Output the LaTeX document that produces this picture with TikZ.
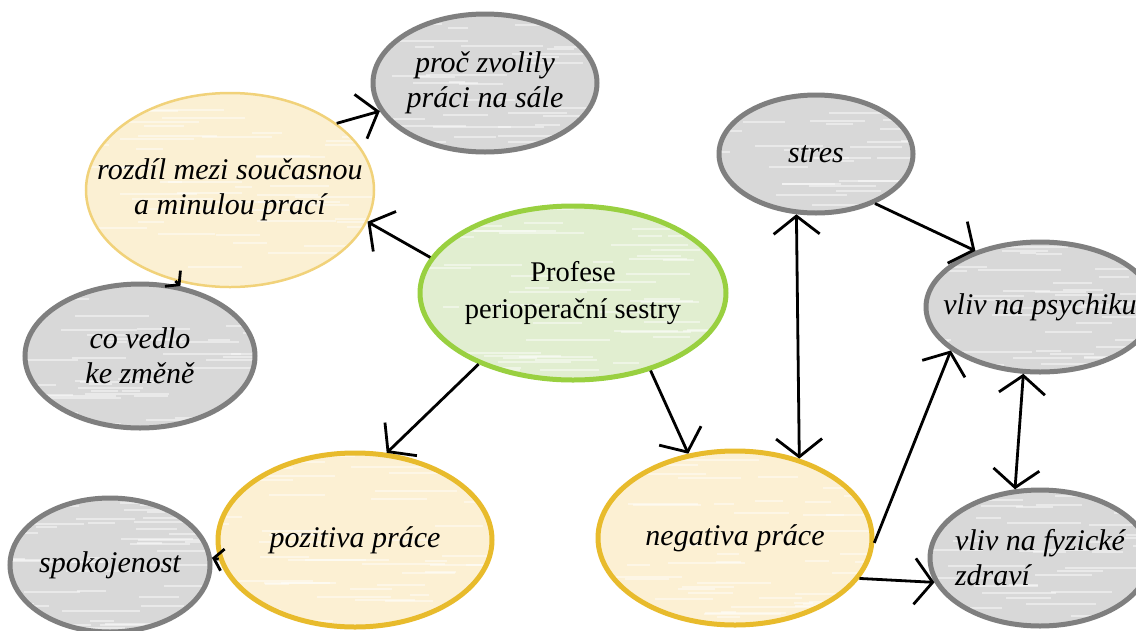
\documentclass[tikz,border=0pt]{standalone}
\usepackage{fontspec}
\setmainfont{Liberation Serif}
\usetikzlibrary{arrows.meta,shapes.geometric,calc}
\definecolor{grayfill}{HTML}{D8D8D8}
\definecolor{graydraw}{HTML}{7F7F7F}
\definecolor{greenfill}{HTML}{E1EED0}
\definecolor{greendraw}{HTML}{99D040}
\definecolor{yelfill}{HTML}{FCF0D3}
\definecolor{yeldraw}{HTML}{E8BB2C}
\definecolor{rozfill}{HTML}{FBF0D3}
\definecolor{rozdraw}{HTML}{F1D27A}
\pgfmathsetseed{4711}
\begin{document}
\begin{tikzpicture}[x=1pt,y=-1pt,
  streaks/.style={path picture={%
    \foreach \k in {1,...,55}{%
      \pgfmathsetmacro\fy{rnd}\pgfmathsetmacro\fx{rnd*300-20}\pgfmathsetmacro\fl{15+rnd*70}%
      \draw[white,opacity=.45,line width=2pt]
        ($(path picture bounding box.north west)!\fy!(path picture bounding box.south west)$)
        ++(\fx,0) -- ++(\fl,0);}}},
  bub/.style={ellipse, inner xsep=-40pt, inner ysep=0pt, align=center, streaks, font=\fontsize{30}{35}\selectfont\itshape},
  graybub/.style={bub, fill=grayfill, draw=graydraw, line width=5pt},
  greenbub/.style={bub, fill=greenfill, draw=greendraw, line width=5pt, font=\fontsize{28.5}{37}\selectfont},
  yelbub/.style={bub, fill=yelfill, draw=yeldraw, line width=5pt},
  rozbub/.style={bub, fill=rozfill, draw=rozdraw, line width=2.5pt},
  conn/.style={line width=2.8pt, -{Straight Barb[length=18pt,width=46pt]}},
  connsmall/.style={line width=2.8pt, -{Straight Barb[length=9pt,width=22pt]}},
  connboth/.style={line width=2.8pt, {Straight Barb[length=18pt,width=46pt]}-{Straight Barb[length=18pt,width=46pt]}}
]
\useasboundingbox (0,0) rectangle (1136,630);
\clip (0,0) rectangle (1136,630);
\fill[white] (0,0) rectangle (1136,630);

\node[graybub, minimum width=224, minimum height=138] (proc) at (485,83) {proč zvolily\\práci na sále};
\node[rozbub, minimum width=288, minimum height=194] (rozdil) at (230,190) {rozdíl mezi současnou\\a minulou prací};
\node[graybub, minimum width=230, minimum height=144] (covedlo) at (140,356) {co vedlo\\ke změně};
\node[greenbub, minimum width=306, minimum height=174] (prof) at (573,293) {Profese\\perioperační sestry};
\node[graybub, minimum width=194, minimum height=118] (stres) at (816,154) {stres};
\node[graybub, minimum width=228, minimum height=130] (psych) at (1040,307) {vliv na psychiku};
\node[graybub, minimum width=220, minimum height=136, align=left] (fyz) at (1040,558) {vliv na fyzické\\zdraví};
\node[yelbub, minimum width=274, minimum height=174] (neg) at (735,538) {negativa práce};
\node[yelbub, minimum width=274, minimum height=174] (poz) at (355,540) {pozitiva práce};
\node[graybub, minimum width=200, minimum height=134] (spok) at (110,565) {spokojenost};

\draw[conn] (rozdil.32) -- (proc.195);
\draw[conn] (prof.166) -- (rozdil.-13);
\draw[connsmall] (rozdil.-121) -- (covedlo.60);
\draw[conn] (prof.217) -- (poz.70);
\draw[connsmall] (poz.188) -- (spok.4);
\draw[conn] (prof.-45) -- (neg.119);
\draw[connboth] (stres.-108) -- (neg.51);
\draw[conn] (stres.-40) -- (psych.139);
\draw[conn] (neg.-2) -- (psych.206);
\draw[conn] (neg.-18) -- (fyz.193);
\draw[connboth] (psych.-104) -- (fyz.110);
\end{tikzpicture}
\end{document}
